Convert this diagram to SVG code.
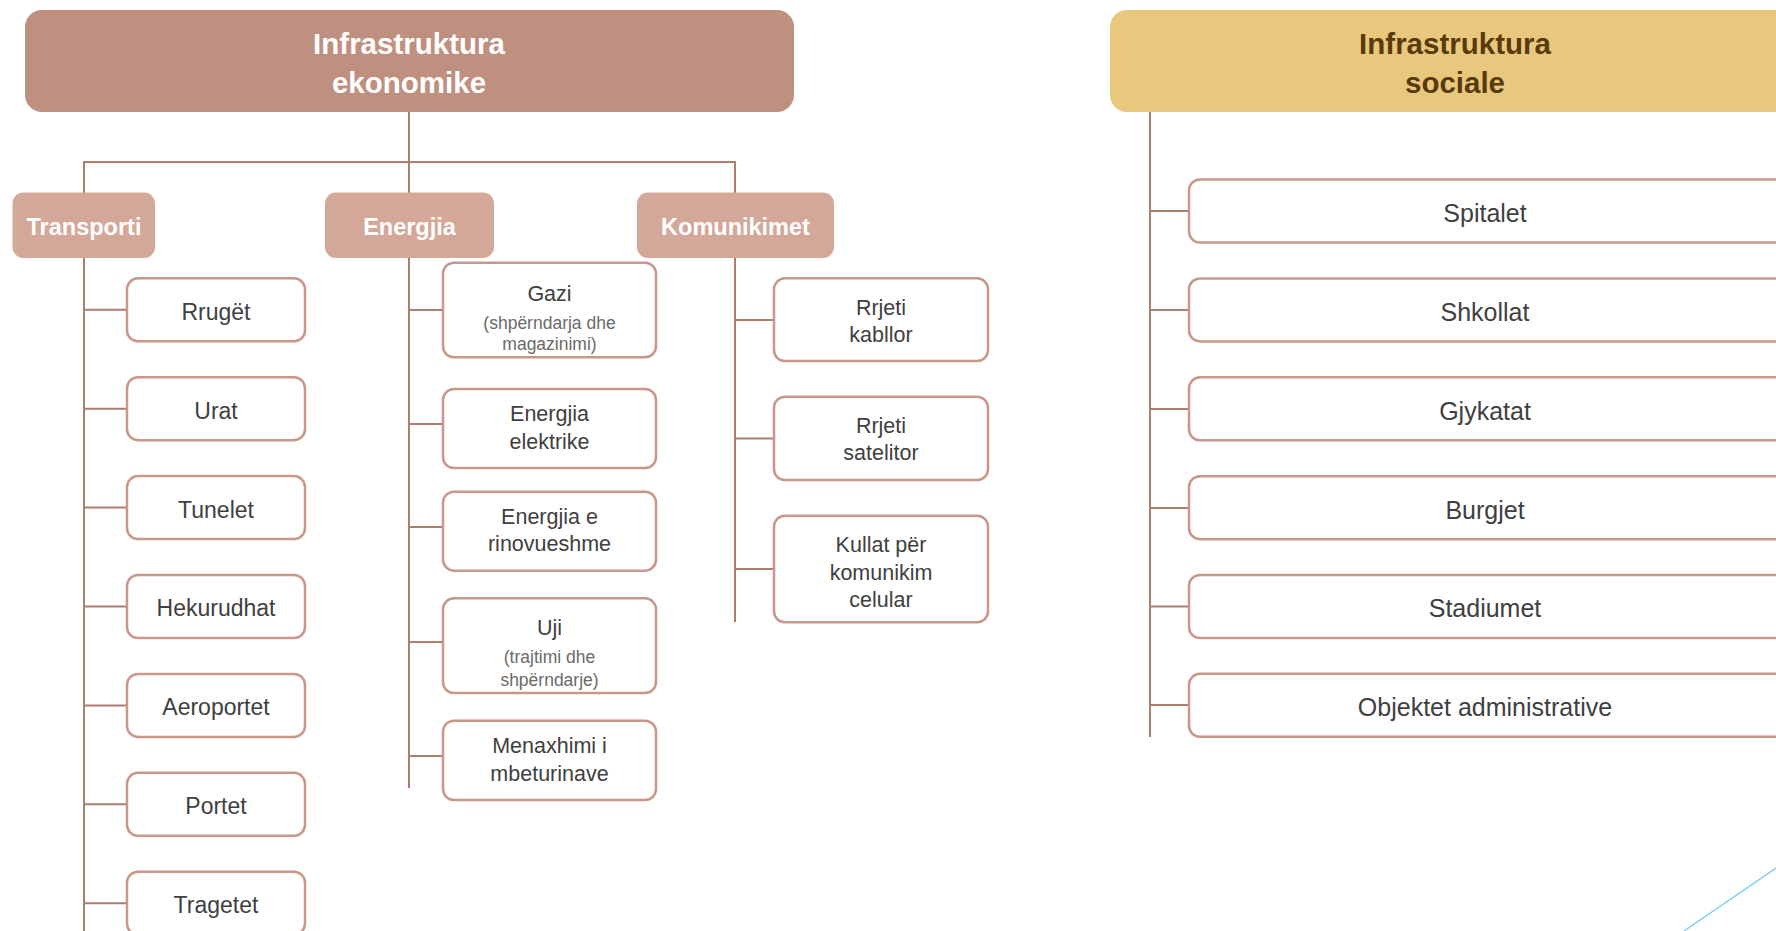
<svg xmlns="http://www.w3.org/2000/svg" width="1776" height="931" viewBox="0 0 1776 931">
  <style>
    .t { font-family: "Liberation Sans", Arial, sans-serif; text-anchor: middle; }
    .title { font-size: 29.5px; font-weight: bold; }
    .cat { font-size: 23.5px; font-weight: bold; fill: #ffffff; }
    .catbox { fill: #D4A898; }
    .item { fill: #ffffff; stroke: #C9968A; stroke-width: 2.5; }
    .lbl { fill: #404040; }
    .tr { font-size: 23px; }
    .en { font-size: 21.5px; }
    .sm { font-size: 17.5px; fill: #6a6a6a; }
    .so { font-size: 25px; }
    .conn { fill: none; stroke: #AC7E70; stroke-width: 2; }
  </style>

  <rect width="1776" height="931" fill="#ffffff"/>

  <!-- connectors -->
  <g id="connectors" class="conn">
    <path d="M409 112 V193"/>
    <path d="M84 193 V162 H735 V193"/>
    <!-- Transporti -->
    <path d="M84 258 V931"/>
    <path d="M84 309.8 H127 M84 408.7 H127 M84 507.6 H127 M84 606.5 H127 M84 705.4 H127 M84 804.3 H127 M84 903.2 H127"/>
    <!-- Energjia -->
    <path d="M409 258 V788"/>
    <path d="M409 310 H443 M409 424 H443 M409 527 H443 M409 642 H443 M409 756 H443"/>
    <!-- Komunikimet -->
    <path d="M735 258 V622"/>
    <path d="M735 320 H774 M735 438.5 H774 M735 569 H774"/>
    <!-- Infrastruktura sociale -->
    <path d="M1150 112 V737"/>
    <path d="M1150 211 H1189 M1150 310 H1189 M1150 409 H1189 M1150 508 H1189 M1150 606.5 H1189 M1150 705 H1189"/>
  </g>

  <!-- top level -->
  <g id="infra-ekonomike">
    <rect x="25" y="10" width="769" height="102" rx="17" fill="#BF907F"/>
    <text class="t title" fill="#ffffff"><tspan x="409" y="54">Infrastruktura</tspan><tspan x="409" y="93">ekonomike</tspan></text>
  </g>
  <g id="infra-sociale">
    <rect x="1110" y="10" width="700" height="102" rx="17" fill="#E7C87C"/>
    <text class="t title" fill="#5A3A0C"><tspan x="1455" y="54">Infrastruktura</tspan><tspan x="1455" y="93">sociale</tspan></text>
  </g>

  <!-- categories -->
  <g id="transporti">
    <rect class="catbox" x="12.5" y="192.6" width="142.5" height="65.4" rx="11"/>
    <text class="t cat" x="84" y="235">Transporti</text>
  </g>
  <g id="energjia">
    <rect class="catbox" x="325" y="192.6" width="169" height="65.4" rx="11"/>
    <text class="t cat" x="409.5" y="235">Energjia</text>
  </g>
  <g id="komunikimet">
    <rect class="catbox" x="637" y="192.6" width="197" height="65.4" rx="11"/>
    <text class="t cat" x="735.5" y="235">Komunikimet</text>
  </g>

  <!-- Transporti items -->
  <g id="rruget"><rect class="item" x="127" y="278.3" width="178" height="63" rx="11"/><text class="t lbl tr" x="216" y="319.5">Rrugët</text></g>
  <g id="urat"><rect class="item" x="127" y="377.2" width="178" height="63" rx="11"/><text class="t lbl tr" x="216" y="418.5">Urat</text></g>
  <g id="tunelet"><rect class="item" x="127" y="476.1" width="178" height="63" rx="11"/><text class="t lbl tr" x="216" y="517.5">Tunelet</text></g>
  <g id="hekurudhat"><rect class="item" x="127" y="575" width="178" height="63" rx="11"/><text class="t lbl tr" x="216" y="616">Hekurudhat</text></g>
  <g id="aeroportet"><rect class="item" x="127" y="673.9" width="178" height="63" rx="11"/><text class="t lbl tr" x="216" y="715">Aeroportet</text></g>
  <g id="portet"><rect class="item" x="127" y="772.8" width="178" height="63" rx="11"/><text class="t lbl tr" x="216" y="814">Portet</text></g>
  <g id="tragetet"><rect class="item" x="127" y="871.7" width="178" height="63" rx="11"/><text class="t lbl tr" x="216" y="913">Tragetet</text></g>

  <!-- Energjia items -->
  <g id="gazi">
    <rect class="item" x="443" y="262.7" width="213" height="94.6" rx="11"/>
    <text class="t lbl en" x="549.5" y="301">Gazi</text>
    <text class="t sm"><tspan x="549.5" y="328.5">(shpërndarja dhe</tspan><tspan x="549.5" y="350">magazinimi)</tspan></text>
  </g>
  <g id="energjia-elektrike">
    <rect class="item" x="443" y="389" width="213" height="79" rx="11"/>
    <text class="t lbl en"><tspan x="549.5" y="421">Energjia</tspan><tspan x="549.5" y="449">elektrike</tspan></text>
  </g>
  <g id="energjia-rinovueshme">
    <rect class="item" x="443" y="491.7" width="213" height="79" rx="11"/>
    <text class="t lbl en"><tspan x="549.5" y="523.5">Energjia e</tspan><tspan x="549.5" y="551">rinovueshme</tspan></text>
  </g>
  <g id="uji">
    <rect class="item" x="443" y="598.3" width="213" height="94.7" rx="11"/>
    <text class="t lbl en" x="549.5" y="634.5">Uji</text>
    <text class="t sm"><tspan x="549.5" y="662.5">(trajtimi dhe</tspan><tspan x="549.5" y="685.5">shpërndarje)</tspan></text>
  </g>
  <g id="menaxhimi">
    <rect class="item" x="443" y="720.7" width="213" height="79.3" rx="11"/>
    <text class="t lbl en"><tspan x="549.5" y="753">Menaxhimi i</tspan><tspan x="549.5" y="781">mbeturinave</tspan></text>
  </g>

  <!-- Komunikimet items -->
  <g id="rrjeti-kabllor">
    <rect class="item" x="774" y="278.3" width="214" height="82.7" rx="11"/>
    <text class="t lbl en"><tspan x="881" y="315">Rrjeti</tspan><tspan x="881" y="342">kabllor</tspan></text>
  </g>
  <g id="rrjeti-satelitor">
    <rect class="item" x="774" y="396.7" width="214" height="83.3" rx="11"/>
    <text class="t lbl en"><tspan x="881" y="433">Rrjeti</tspan><tspan x="881" y="460">satelitor</tspan></text>
  </g>
  <g id="kullat">
    <rect class="item" x="774" y="515.7" width="214" height="106.6" rx="11"/>
    <text class="t lbl en"><tspan x="881" y="552">Kullat për</tspan><tspan x="881" y="579.5">komunikim</tspan><tspan x="881" y="607">celular</tspan></text>
  </g>

  <!-- Infrastruktura sociale items -->
  <g id="spitalet"><rect class="item" x="1189" y="179.5" width="600" height="63" rx="11"/><text class="t lbl so" x="1485" y="221.5">Spitalet</text></g>
  <g id="shkollat"><rect class="item" x="1189" y="278.4" width="600" height="63" rx="11"/><text class="t lbl so" x="1485" y="320.5">Shkollat</text></g>
  <g id="gjykatat"><rect class="item" x="1189" y="377.3" width="600" height="63" rx="11"/><text class="t lbl so" x="1485" y="419.5">Gjykatat</text></g>
  <g id="burgjet"><rect class="item" x="1189" y="476.2" width="600" height="63" rx="11"/><text class="t lbl so" x="1485" y="518.5">Burgjet</text></g>
  <g id="stadiumet"><rect class="item" x="1189" y="575" width="600" height="63" rx="11"/><text class="t lbl so" x="1485" y="617">Stadiumet</text></g>
  <g id="objektet"><rect class="item" x="1189" y="673.8" width="600" height="63" rx="11"/><text class="t lbl so" x="1485" y="716">Objektet administrative</text></g>

  <!-- corner accent line -->
  <line x1="1776" y1="868" x2="1684" y2="931" stroke="#7FD0EE" stroke-width="1.5"/>
</svg>
